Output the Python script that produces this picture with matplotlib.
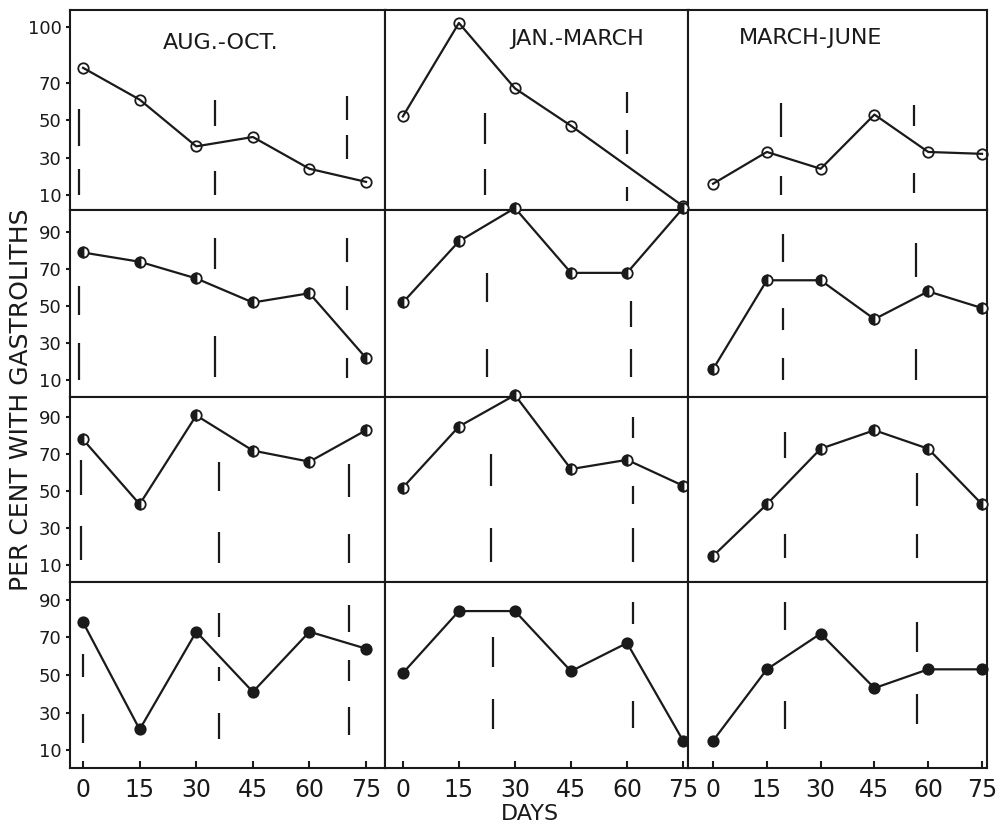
import numpy as np
import matplotlib
matplotlib.use("Agg")
import matplotlib.pyplot as plt

# sampling days
days=[0,15,30,45,60,75]
jan_d=[[0,15,30,45,75],days,days,days]

# per cent with gastroliths, one list per row (stage), per season
aug=[[78,61,36,41,24,17],
     [79,74,65,52,57,22],
     [78,43,91,72,66,83],
     [78,21,73,41,73,64]]
jan=[[52,102,67,47,4],
     [52,85,103,68,68,103],
     [52,85,102,62,67,53],
     [51,84,84,52,67,15]]
mar=[[16,33,24,53,33,32],
     [16,64,64,43,58,49],
     [15,43,73,83,73,43],
     [15,53,72,43,53,53]]

seasons=["AUG.-OCT.","JAN.-MARCH","MARCH-JUNE"]

# moult marks: (day, [(y0,y1), ...]) for each panel
aug_m=[[(-1,[(36,56),(10,24)]),(35,[(47,61),(10,23)]),(70,[(50,63),(29,42)])],
       [(-1,[(45,61),(10,30)]),(35,[(70,87),(12,34)]),(70,[(74,87),(48,61),(11,22)])],
       [(-0.5,[(48,67),(13,31)]),(36,[(50,66),(11,28)]),(70.5,[(47,65),(11,27)])],
       [(0,[(49,61),(14,29)]),(36,[(70,83),(47,54),(16,30)]),(70.5,[(73,87),(47,58),(18,33)])]]
jan_m=[[(22,[(37,54),(10,24)]),(60,[(54,65),(32,45),(7,14)])],
       [(22.5,[(52,68),(12,27)]),(61,[(39,53),(12,27)])],
       [(23.5,[(53,70),(12,30)]),(61.5,[(79,90),(43,53),(12,30)])],
       [(24,[(54,70),(21,37)]),(61.5,[(77,89),(22,36)])]]
mar_m=[[(19,[(41,59),(10,20)]),(56,[(47,58),(11,22)])],
       [(19.5,[(74,89),(37,49),(10,22)]),(56.5,[(66,84),(10,27)])],
       [(20,[(68,82),(14,27)]),(57,[(42,60),(14,27)])],
       [(20,[(74,89),(21,36)]),(57,[(62,78),(24,40)])]]

yt=[[10,30,50,70,100],[10,30,50,70,90],[10,30,50,70,90],[10,30,50,70,90]]

# plotstyle
FS=12
plt.rcParams.update({'font.size':FS,'font.family':'DejaVu Sans'})
k='#1a1a1a'

ylims=[(2,109),(1,102),(1,101),(0.5,99.5)]
xlims=[(-3.5,80),(-4.8,76.3),(-7,76.4)]
fills=['none','left','left','full']

f0=plt.figure(figsize=(9.98,8.24),dpi=100)
gs=f0.add_gridspec(4,3,left=0.070,right=0.989,top=0.988,bottom=0.068,
                   wspace=0,hspace=0,height_ratios=[200,187,185,186],
                   width_ratios=[315,303,299])

vals=[aug,jan,mar]
marks=[aug_m,jan_m,mar_m]
for i0 in range(4):
    for i1 in range(3):
        ax=f0.add_subplot(gs[i0,i1])
        dd=jan_d[i0] if i1==1 else days
        fs=fills[i0]
        ax.plot(dd,vals[i1][i0],color=k,lw=1.6,marker='o',ms=7.5,
                fillstyle=fs,markerfacecolor=k if fs!='none' else 'white',
                markerfacecoloralt='white',markeredgecolor=k,mew=1.3,
                clip_on=False,zorder=3)
        for d0,segs in marks[i1][i0]:
            for y0,y1 in segs:
                ax.vlines(d0,y0,y1,color=k,lw=1.6)
        ax.set_xlim(xlims[i1])
        ax.set_ylim(ylims[i0])
        for s in ax.spines.values():
            s.set_linewidth(1.5)
            s.set_color(k)
        ax.set_xticks(days)
        ax.set_yticks(yt[i0])
        ax.tick_params(axis='x',direction='in',length=5,width=1.5,
                       labelsize=17,pad=7,colors=k)
        ax.tick_params(axis='y',direction='out',length=3,width=1.5,
                       labelsize=13,pad=3,colors=k)
        if i0<3:
            ax.tick_params(axis='x',bottom=False,labelbottom=False)
        if i1>0:
            ax.tick_params(axis='y',left=False,labelleft=False)

        if i0==0:
            tx=[0.48,0.634,0.41][i1]
            ty=[0.835,0.855,0.86][i1]
            ax.text(tx,ty,seasons[i1],transform=ax.transAxes,ha='center',
                    va='center',fontsize=16,color=k)

f0.text(0.021,0.515,"PER CENT WITH GASTROLITHS",rotation=90,ha='center',
        va='center',fontsize=18,color=k)
f0.text(0.531,0.012,"DAYS",ha='center',va='center',fontsize=16,color=k)

f0.savefig('out.png',dpi=100)
